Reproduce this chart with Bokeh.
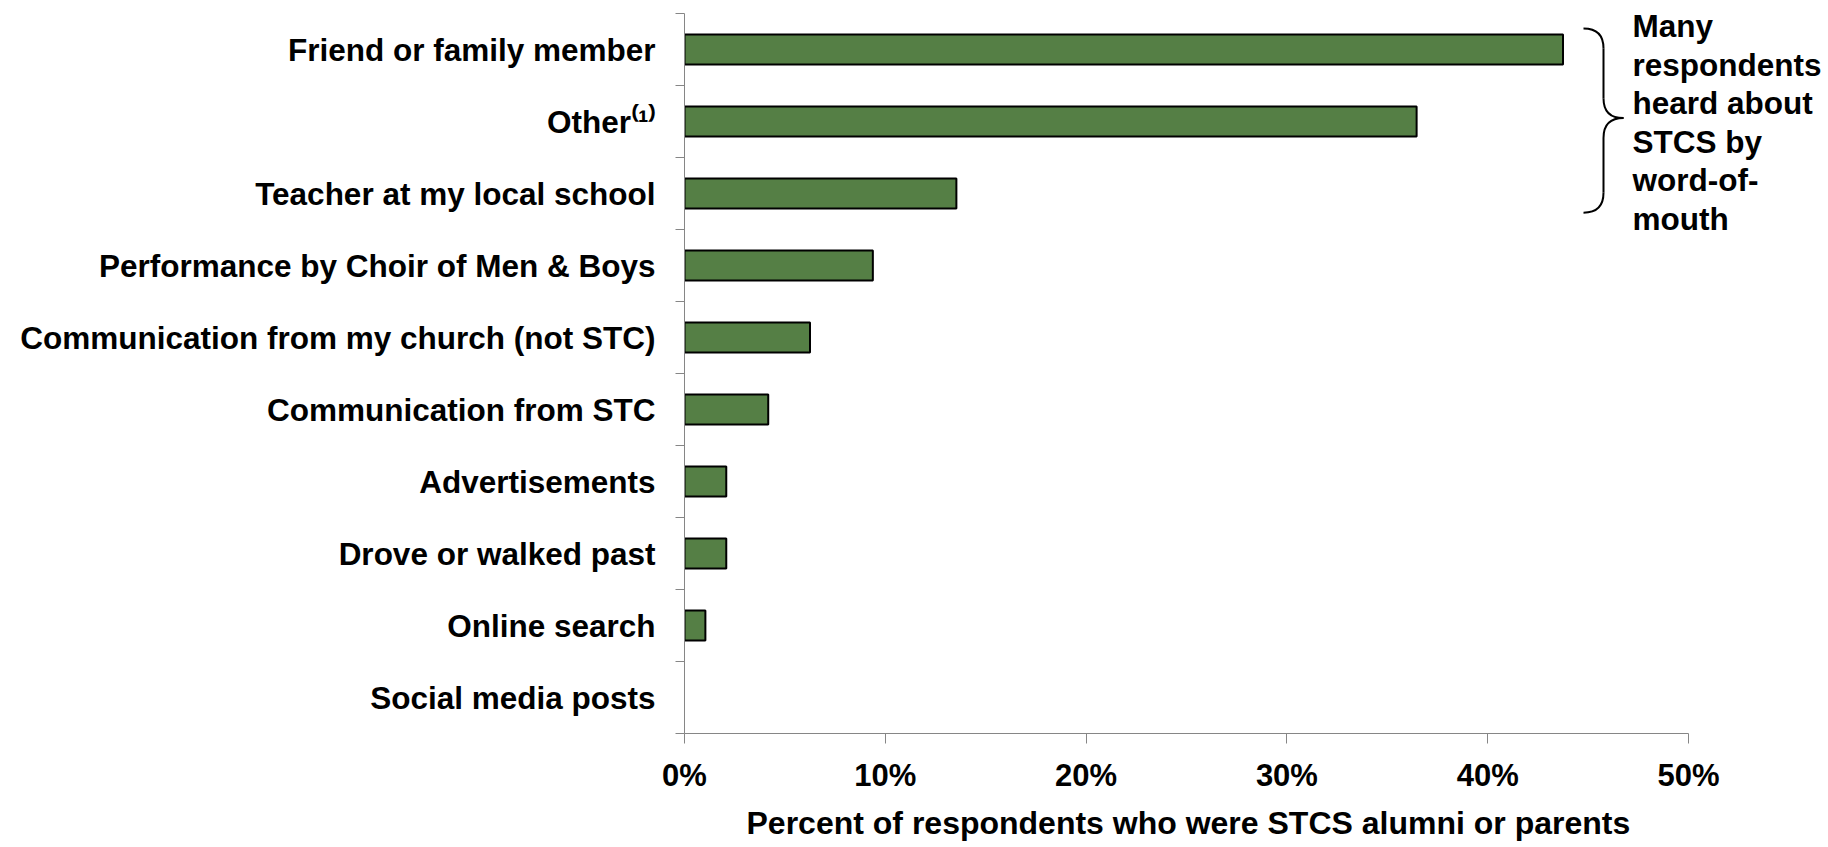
from bokeh.plotting import figure
from bokeh.models import (Range1d, FixedTicker, PrintfTickFormatter, Label, ColumnDataSource,
                          Title, CDSView, BooleanFilter)
from bokeh.embed import file_html
from bokeh.resources import INLINE

# ---- data ----
categories = [
    "Friend or family member",
    "Other",
    "Teacher at my local school",
    "Performance by Choir of Men & Boys",
    "Communication from my church (not STC)",
    "Communication from STC",
    "Advertisements",
    "Drove or walked past",
    "Online search",
    "Social media posts",
]
percent = [43.75, 36.46, 13.54, 9.38, 6.25, 4.17, 2.08, 2.08, 1.04, 0.0]
x_ticks = [0, 10, 20, 30, 40, 50]
note_lines = ["Many", "respondents", "heard about", "STCS by", "word-of-", "mouth"]
x_title = "Percent of respondents who were STCS alumni or parents"
other_label = "Other\u207d\u00b9\u207e"

# ---- layout constants (canvas pixels) ----
W, H = 1828, 847
FL, FR, FT, FB = 684, 1688, 13, 736   # axis area: 0..50 % horizontally
n = len(categories)
XMAX = 50.0
pxx = (FR - FL) / XMAX
pxy = (FB - FT) / n
XEND = XMAX + (W - FR) / pxx           # frame extends to the right edge for the note

def dx(px):  # canvas x -> data x
    return (px - FL) / pxx

def dy(py):  # canvas y -> data y
    return n - (py - FT) / pxy

FONT = "Liberation Sans"
GREEN = "#557F45"
AXIS = "#868686"

p = figure(width=W, height=H, output_backend="svg", toolbar_location=None,
           x_range=Range1d(0, XEND), y_range=Range1d(0, n),
           min_border_left=FL, min_border_right=0,
           min_border_top=FT, min_border_bottom=H - FB)
p.outline_line_color = None
p.grid.visible = False
p.background_fill_color = "white"
p.border_fill_color = "white"

centers = [n - 0.5 - i for i in range(n)]
src = ColumnDataSource(dict(y=centers, right=percent))
view = CDSView(filter=BooleanFilter([v > 0 for v in percent]))
p.hbar(y="y", right="right", left=0, height=0.415, source=src, view=view,
       fill_color=GREEN, line_color="black", line_width=2)

# x axis
xa = p.xaxis[0]
xa.bounds = (0, XMAX)
xa.ticker = FixedTicker(ticks=x_ticks)
xa.formatter = PrintfTickFormatter(format="%d%%")
xa.axis_line_color = AXIS
xa.major_tick_line_color = AXIS
xa.major_tick_out = 10
xa.major_tick_in = 0
xa.minor_tick_line_color = None
xa.major_label_text_font = FONT
xa.major_label_text_font_style = "bold"
xa.major_label_text_font_size = "31px"
xa.major_label_text_color = "black"
xa.major_label_standoff = 14

# x axis title, centred under the 0-50 % span
p.add_layout(Title(text=x_title, align="left", offset=62, standoff=14,
                   text_font=FONT, text_font_style="bold", text_font_size="32px",
                   text_color="black"), "below")

# y axis: labels at centres, tick marks at category boundaries
ya = p.yaxis[0]
ya.bounds = (0, n)
ya.ticker = FixedTicker(ticks=centers, minor_ticks=list(range(n + 1)))
overrides = {c: lab for c, lab in zip(centers, categories)}
overrides[centers[1]] = other_label
ya.major_label_overrides = overrides
ya.axis_line_color = AXIS
ya.major_tick_line_color = None
ya.minor_tick_line_color = AXIS
ya.minor_tick_out = 9
ya.minor_tick_in = 0
ya.major_label_text_font = FONT
ya.major_label_text_font_style = "bold"
ya.major_label_text_font_size = "31.5px"
ya.major_label_text_color = "black"
ya.major_label_standoff = 20

# brace spanning the top three bars
bx0, bx1, bx2 = dx(1583), dx(1603), dx(1623)
yt, ym, yb = dy(28), dy(118), dy(213)
r = 20 / pxy
p.quadratic(x0=[bx0], y0=[yt], x1=[bx1], y1=[yt - r], cx=[bx1], cy=[yt],
            line_color="black", line_width=2)
p.segment(x0=[bx1], y0=[yt - r], x1=[bx1], y1=[ym + r], line_color="black", line_width=2)
p.quadratic(x0=[bx1], y0=[ym + r], x1=[bx2], y1=[ym], cx=[bx1], cy=[ym],
            line_color="black", line_width=2)
p.quadratic(x0=[bx2], y0=[ym], x1=[bx1], y1=[ym - r], cx=[bx1], cy=[ym],
            line_color="black", line_width=2)
p.segment(x0=[bx1], y0=[ym - r], x1=[bx1], y1=[yb + r], line_color="black", line_width=2)
p.quadratic(x0=[bx1], y0=[yb + r], x1=[bx0], y1=[yb], cx=[bx1], cy=[yb],
            line_color="black", line_width=2)

# note text
for k, line in enumerate(note_lines):
    p.add_layout(Label(x=dx(1632), y=dy(25.6 + 38.7 * k), text=line, text_align="left",
                       text_baseline="middle", text_font=FONT, text_font_style="bold",
                       text_font_size="31.5px", text_color="black"))

open("out.html", "w").write(file_html(p, INLINE))
